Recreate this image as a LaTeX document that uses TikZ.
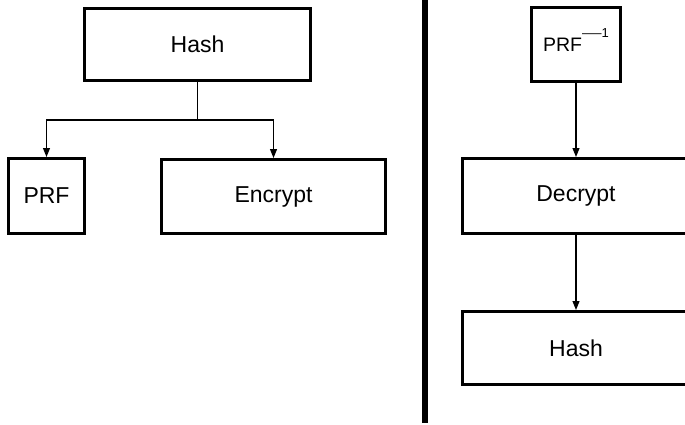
\documentclass[tikz,border=0pt]{standalone}
\usepackage{fontspec}
\setmainfont{Liberation Sans}
\usetikzlibrary{arrows.meta}
\tikzset{
  block/.style={draw, line width=3.3pt, inner sep=0pt, font=\fontsize{23}{27}\selectfont},
  link/.style={line width=1.1pt, -{Triangle[length=9pt,width=7pt]}},
  stem/.style={line width=1.1pt},
  divider/.style={line width=6pt}
}
\newcommand{\invexp}{\raisebox{12pt}[0pt][0pt]{\fontsize{13}{15}\selectfont\scalebox{1.5}[1]{—}1}}
\begin{document}
\begin{tikzpicture}[x=1pt,y=-1pt]
  \useasboundingbox (0,0) rectangle (685,425);
  \clip (0,0) rectangle (685,425);

  % left side: hash feeding PRF and encryption
  \node[block, minimum width=225.7pt, minimum height=71.7pt] (hashL) at (197.5,44.5) {Hash};
  \node[block, minimum width=75.7pt, minimum height=74.7pt] (prf) at (46.5,196) {PRF};
  \node[block, minimum width=223.7pt, minimum height=73.7pt] (enc) at (273.5,196.5) {Encrypt};

  \coordinate (split) at (197.5,120);
  \draw[stem] (hashL.south) -- (split);
  \draw[link] (split) -| (prf.north);
  \draw[link] (split) -| (enc.north);

  % separator
  \coordinate (barTop) at (424.5,0);
  \coordinate (barBot) at (424.5,423);
  \draw[divider] (barTop) -- (barBot);

  % right side: inverse chain
  \node[block, minimum width=88.7pt, minimum height=73.7pt, font=\fontsize{19.5}{23}\selectfont] (prfinv) at (576,44.5) {\raisebox{-1.5pt}{PRF}\invexp};
  \node[block, minimum width=226.7pt, minimum height=74.7pt] (dec) at (576,196) {Decrypt};
  \node[block, minimum width=226.7pt, minimum height=72.7pt] (hashR) at (576,348) {Hash};

  \draw[link] (prfinv.south) -- (dec.north);
  \draw[link] (dec.south) -- (hashR.north);
\end{tikzpicture}
\end{document}
